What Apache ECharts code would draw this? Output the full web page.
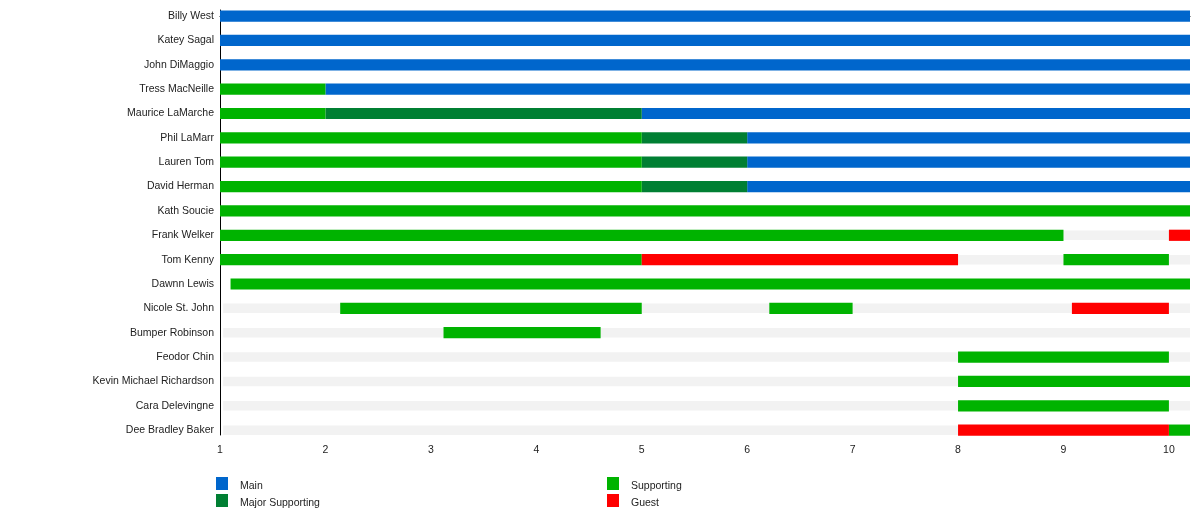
<!DOCTYPE html>
<html>
<head>
<meta charset="utf-8">
<script src="https://cdn.jsdelivr.net/npm/echarts@6/dist/echarts.min.js"></script>
<style>
    html, body { margin: 0; padding: 0; background: #fff; }
    #chart { width: 1200px; height: 515px; }
</style>
</head>
<body>
<div id="chart"></div>
<script>
// cast, top to bottom
const actors = [
    'Billy West', 'Katey Sagal', 'John DiMaggio', 'Tress MacNeille', 'Maurice LaMarche',
    'Phil LaMarr', 'Lauren Tom', 'David Herman', 'Kath Soucie', 'Frank Welker',
    'Tom Kenny', 'Dawnn Lewis', 'Nicole St. John', 'Bumper Robinson', 'Feodor Chin',
    'Kevin Michael Richardson', 'Cara Delevingne', 'Dee Bradley Baker'
];

const seasonTicks = [1, 2, 3, 4, 5, 6, 7, 8, 9, 10];

// [row, from, to]
const mainSpans = [
    [0, 1, 10.2], [1, 1, 10.2], [2, 1, 10.2], [3, 2, 10.2], [4, 5, 10.2],
    [5, 6, 10.2], [6, 6, 10.2], [7, 6, 10.2]
];
const majorSpans = [
    [4, 2, 5], [5, 5, 6], [6, 5, 6], [7, 5, 6]
];
const supportingSpans = [
    [3, 1, 2], [4, 1, 2], [5, 1, 5], [6, 1, 5], [7, 1, 5], [8, 1, 10.2],
    [9, 1, 9], [10, 1, 5], [10, 9, 10], [11, 1.1, 10.2], [12, 2.14, 5],
    [12, 6.21, 7], [13, 3.12, 4.61], [14, 8, 10], [15, 8, 10.2], [16, 8, 10],
    [17, 10, 10.2]
];
const guestSpans = [
    [9, 10, 10.2], [10, 5, 8], [12, 9.08, 10], [17, 8, 10]
];
const trackSpans = [
    [9, 1.03, 10.2], [10, 1.03, 10.2], [12, 1.03, 10.2], [13, 1.03, 10.2],
    [14, 1.03, 10.2], [15, 1.03, 10.2], [16, 1.03, 10.2], [17, 1.03, 10.2]
];

const roles = ['Main', 'Major Supporting', 'Supporting', 'Guest'];
const roleColors = ['#0066cc', '#007f33', '#00b300', '#ff0000'];
const roleSpans = [mainSpans, majorSpans, supportingSpans, guestSpans];
// legend slots: [left, top]
const legendSlots = [[216, 477], [216, 494], [607, 477], [607, 494]];

const font = '"Liberation Sans", Arial, sans-serif';

function spanRenderer(ratio) {
    return function (params, api) {
        const row = api.value(0);
        const start = api.coord([api.value(1), row]);
        const end = api.coord([api.value(2), row]);
        const h = api.size([0, 1])[1] * ratio;
        return {
            type: 'rect',
            shape: { x: start[0], y: start[1] - h / 2, width: end[0] - start[0], height: h },
            style: { fill: api.visual('color') }
        };
    };
}

const series = [{
    name: 'track',
    type: 'custom',
    renderItem: spanRenderer(0.39),
    itemStyle: { color: '#f2f2f2' },
    encode: { x: [1, 2], y: 0 },
    data: trackSpans,
    silent: true
}];

roles.forEach((role, i) => {
    series.push({
        name: role,
        type: 'custom',
        renderItem: spanRenderer(0.46),
        itemStyle: { color: roleColors[i] },
        encode: { x: [1, 2], y: 0 },
        data: roleSpans[i]
    });
});

const legends = roles.map((role, i) => ({
    data: [role],
    left: legendSlots[i][0],
    top: legendSlots[i][1],
    padding: 0,
    icon: 'rect',
    itemWidth: 12,
    itemHeight: 13,
    selectedMode: false,
    formatter: '{t|{name}}',
    textStyle: {
        fontFamily: font, fontSize: 10.5, color: '#222',
        rich: { t: { fontFamily: font, fontSize: 10.5, color: '#222', padding: [5, 0, 0, 7] } }
    }
}));

const chart = echarts.init(document.getElementById('chart'));
chart.setOption({
    animation: false,
    backgroundColor: '#fff',
    grid: { left: 220, right: 10, top: 10, bottom: 80 },
    legend: legends,
    xAxis: {
        type: 'value',
        min: 1,
        max: 10.2,
        splitLine: { show: false },
        axisLine: { lineStyle: { color: '#000', width: 1 } },
        axisTick: { show: true, length: 4, customValues: seasonTicks, lineStyle: { color: '#000' } },
        axisLabel: {
            customValues: seasonTicks,
            margin: 10,
            fontFamily: font,
            fontSize: 10.5,
            color: '#222'
        }
    },
    yAxis: {
        type: 'value',
        inverse: true,
        min: -0.25,
        max: 17.2,
        splitLine: { show: false },
        axisLine: { show: true, lineStyle: { color: '#000', width: 1 } },
        axisTick: { show: false },
        axisLabel: {
            customValues: actors.map((a, i) => i),
            formatter: v => actors[v] || '',
            margin: 6,
            padding: [2, 0, 0, 0],
            fontFamily: font,
            fontSize: 10.5,
            color: '#222'
        }
    },
    series: series
});
</script>
</body>
</html>
